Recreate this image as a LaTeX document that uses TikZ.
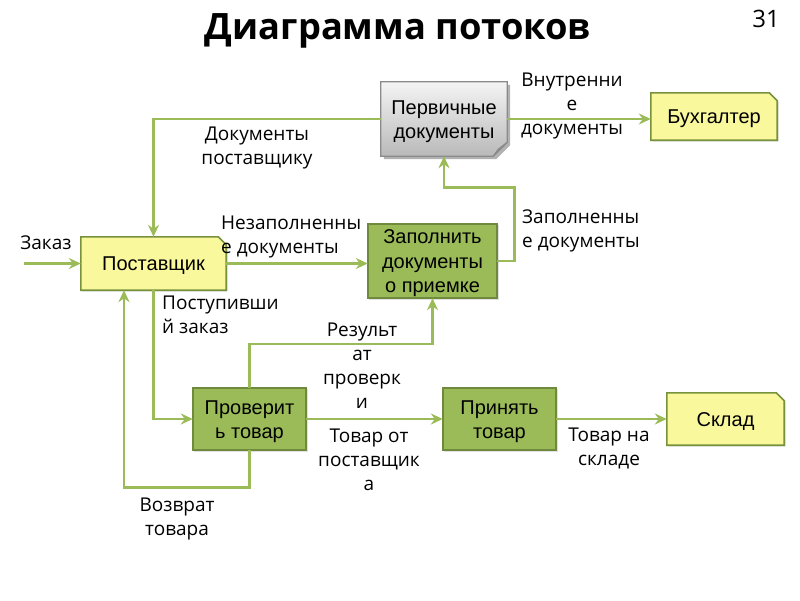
\documentclass[tikz,border=0pt]{standalone}
\usepackage{fontspec}
\setmainfont{Open Sans}
\newfontfamily\boxfont{Liberation Sans}
\usetikzlibrary{arrows.meta,shadows,calc,backgrounds}
\definecolor{flowc}{HTML}{9BBB59}
\definecolor{yelfill}{HTML}{FAF89C}
\definecolor{yeldraw}{HTML}{76923C}
\definecolor{grnfill}{HTML}{9BBB59}
\definecolor{grndraw}{HTML}{6F8A3C}
\definecolor{grytop}{HTML}{F4F4F4}
\definecolor{grybot}{HTML}{B9B9B9}
\definecolor{grydraw}{HTML}{8A8A8A}
\newcommand\cutshape[2]{%
  \path[#2] (#1.south west) -- (#1.north west) -- ([xshift=-8pt]#1.north east)
    -- ([yshift=-8pt]#1.north east) -- (#1.south east) -- cycle;}
\tikzset{
  boxn/.style={inner sep=0pt, draw=none},
  btxt/.style={inner sep=0pt, align=center, font=\boxfont\fontsize{20}{24.5}\selectfont, text=black},
  yelshape/.style={fill=yelfill, draw=yeldraw, line width=1.6pt, line join=miter,
    drop shadow={shadow xshift=1.5pt, shadow yshift=-1.5pt, opacity=0.12, fill=black}},
  grnshape/.style={fill=grnfill, draw=grndraw, line width=1.6pt,
    drop shadow={shadow xshift=1.5pt, shadow yshift=-1.5pt, opacity=0.12, fill=black}},
  flow/.style={draw=flowc, line width=2.6pt, line join=miter,
    -{Stealth[length=12pt,width=11pt,inset=4pt]}},
  lbl/.style={inner sep=0pt, align=center, font=\fontsize{19}{24}\selectfont},
  lbll/.style={inner sep=0pt, align=left, font=\fontsize{19}{24}\selectfont},
}
\begin{document}
\begin{tikzpicture}[x=1pt,y=-1pt]
\useasboundingbox (0,0) rectangle (800,600);

% title
\node[inner sep=0pt, font=\bfseries\fontsize{36.3}{40}\selectfont] (title) at (398,31) {Диаграмма потоков};
\node[inner sep=0pt, font=\fontsize{24}{28}\selectfont] (pnum) at (766,19) {31};

% boxes
\node[boxn, minimum width=126pt, minimum height=74pt] (prim) at (444,119) {};
\node[boxn, minimum width=126pt, minimum height=47pt] (buh) at (714,116.5) {};
\node[boxn, minimum width=145pt, minimum height=53pt] (post) at (153.5,263.5) {};
\node[boxn, minimum width=129pt, minimum height=74pt] (fill) at (432.5,261) {};
\node[boxn, minimum width=113pt, minimum height=62pt] (prov) at (249.5,419) {};
\node[boxn, minimum width=113pt, minimum height=62pt] (prin) at (499.5,419) {};
\node[boxn, minimum width=117pt, minimum height=52pt] (sklad) at (725.5,419) {};

\cutshape{buh}{yelshape}
\cutshape{post}{yelshape}
\cutshape{sklad}{yelshape}
\path[grnshape] (fill.south west) rectangle (fill.north east);
\path[grnshape] (prov.south west) rectangle (prov.north east);
\path[grnshape] (prin.south west) rectangle (prin.north east);
\path[top color=grytop, bottom color=grybot, draw=grydraw, line width=1.2pt,
      drop shadow={shadow xshift=3pt, shadow yshift=-3pt, opacity=0.3, fill=black}]
  (prim.south west) -- (prim.north west) -- (prim.north east)
  -- ([yshift=14pt]prim.south east) -- ([xshift=-14pt]prim.south east) -- cycle;
\path[fill=grybot!80!black, draw=grydraw, line width=1pt]
  ([yshift=14pt]prim.south east) -- ([xshift=-9pt,yshift=7pt]prim.south east)
  -- ([xshift=-14pt]prim.south east) -- cycle;

% box texts
\node[btxt] (tprim) at ([yshift=-2.5pt]prim.center) {Первичные\\документы};
\node[btxt] (tbuh) at ([yshift=-2.5pt]buh.center) {Бухгалтер};
\node[btxt] (tpost) at ([yshift=-2.5pt]post.center) {Поставщик};
\node[btxt] (tfill) at ([yshift=-2.5pt]fill.center) {Заполнить\\документы\\о приемке};
\node[btxt] (tprov) at ([yshift=-2.5pt]prov.center) {Проверит\\ь товар};
\node[btxt] (tprin) at ([yshift=-2.5pt]prin.center) {Принять\\товар};
\node[btxt] (tsklad) at ([yshift=-2.5pt]sklad.center) {Склад};

% connectors
\coordinate (inp) at (24,263.5);
\draw[flow] (inp) -- (post.west);
\draw[flow] (post.east) -- (post.east -| fill.west);
\draw[flow] (fill.east) -- ++(17,0) |- ([yshift=-31pt]prim.south) -- (prim.south);
\draw[flow] (prim.west) -| (post.north);
\draw[flow] (prim.east) -- (prim.east -| buh.west);
\draw[flow] (post.south) |- (prov.west);
\draw[flow] (prov.north) -- ++(0,-44) -| (fill.south);
\draw[flow] (prov.east) -- (prin.west);
\draw[flow] (prin.east) -- (sklad.west);
\draw[flow] (prov.south) -- ++(0,37) -| ([xshift=-29.5pt]post.south);

% labels
\node[lbl] (lzak) at (46,243) {Заказ};
\node[lbll, anchor=west] (lnez) at (221,237) {Незаполненны\\е документы};
\node[lbl] (ldoc) at (257,148) {Документы\\поставщику};
\node[lbl] (lvn) at (572,106) {Внутренни\\е\\документы};
\node[lbll, anchor=west] (lzap) at (522,231) {Заполненны\\е документы};
\node[lbll, anchor=west] (lpos) at (162,314.5) {Поступивши\\й заказ};
\node[lbl] (lres) at (362,365.5) {Результ\\ат\\проверк\\и};
\node[lbl] (ltov) at (369,459.5) {Товар от\\поставщик\\а};
\node[lbl] (lskl) at (609,448) {Товар на\\складе};
\node[lbl] (lvoz) at (177,519) {Возврат\\товара};
\end{tikzpicture}
\end{document}
